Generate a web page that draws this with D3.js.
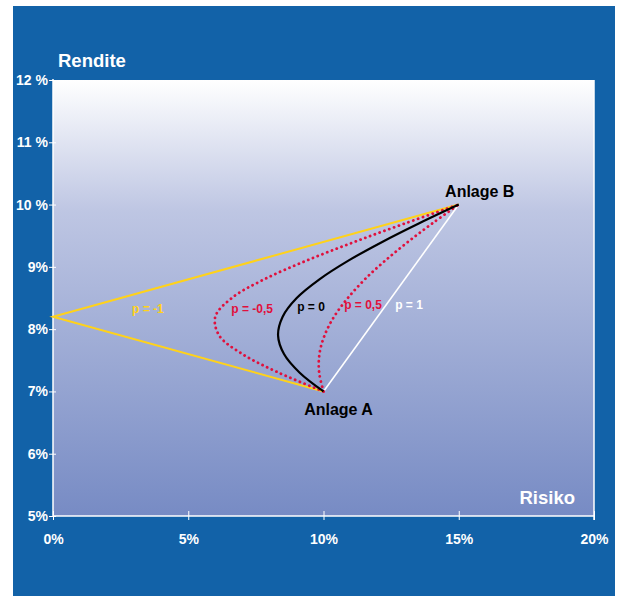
<!DOCTYPE html>
<html>
<head>
<meta charset="utf-8">
<script src="https://cdn.jsdelivr.net/npm/d3@7"></script>
<style>
  html, body { margin: 0; padding: 0; background: #ffffff; }
  svg { display: block; font-family: "Liberation Sans", Arial, sans-serif; }
</style>
</head>
<body>
<svg id="chart" width="618" height="596"></svg>
<script>
// Axis ticks
const xTicks = [0, 5, 10, 15, 20];
const xTickLabels = ["0%", "5%", "10%", "15%", "20%"];
const yTicks = [5, 6, 7, 8, 9, 10, 11, 12];
const yTickLabels = ["5%", "6%", "7%", "8%", "9%", "10 %", "11 %", "12 %"];

// Two assets: [risk %, return %]
const assetA = [10, 7];
const assetB = [15, 10];

// Portfolio curves (risk %, return %) for each correlation p
const riskPm05 = [10, 8.35, 7.0, 6.14, 6.0, 6.61, 7.81, 9.37, 11.14, 13.03, 15];
const riskP0   = [10, 9.12, 8.54, 8.32, 8.49, 9.01, 9.85, 10.92, 12.17, 13.54, 15];
const riskP05  = [10, 9.84, 9.85, 10.04, 10.39, 10.90, 11.53, 12.28, 13.12, 14.03, 15];
const curveReturn = [7.0, 7.3, 7.6, 7.9, 8.2, 8.5, 8.8, 9.1, 9.4, 9.7, 10.0];
const riskPm1 = [10, 0, 15];
const returnPm1 = [7, 8.2, 10];
const riskP1 = [10, 15];
const returnP1 = [7, 10];

const svg = d3.select("#chart");

// Blue panel
svg.append("rect").attr("x", 13).attr("y", 6).attr("width", 602).attr("height", 590)
  .attr("fill", "#1262a8");

const m = { left: 53, right: 594, top: 80, bottom: 516 };
const x = d3.scaleLinear().domain([0, 20]).range([m.left, m.right]);
const y = d3.scaleLinear().domain([5, 12]).range([m.bottom, m.top]);

// Plot area gradient
const defs = svg.append("defs");
const grad = defs.append("linearGradient").attr("id", "bg")
  .attr("x1", 0).attr("y1", 0).attr("x2", 0).attr("y2", 1);
grad.append("stop").attr("offset", "0%").attr("stop-color", "#ffffff");
grad.append("stop").attr("offset", "30%").attr("stop-color", "#bec6e3");
grad.append("stop").attr("offset", "100%").attr("stop-color", "#778bc4");

svg.append("rect")
  .attr("x", m.left).attr("y", m.top)
  .attr("width", m.right - m.left).attr("height", m.bottom - m.top)
  .attr("fill", "url(#bg)");

// Frame lines (left, bottom, right)
const frame = svg.append("g").attr("stroke", "#ffffff").attr("stroke-width", 1.5).attr("fill", "none");
frame.append("line").attr("x1", m.left).attr("x2", m.left).attr("y1", m.top - 1).attr("y2", m.bottom);
frame.append("line").attr("x1", m.left).attr("x2", m.right).attr("y1", m.bottom).attr("y2", m.bottom);
frame.append("line").attr("x1", m.right).attr("x2", m.right).attr("y1", m.top).attr("y2", m.bottom + 4);

// Y axis
const yAxis = d3.axisLeft(y).tickValues(yTicks)
  .tickFormat((d, i) => yTickLabels[i]).tickSize(4).tickPadding(4);
const gy = svg.append("g").attr("transform", `translate(${m.left},0)`).call(yAxis);
gy.select(".domain").remove();
gy.selectAll(".tick line").attr("stroke", "#ffffff").attr("x2", 3).attr("x1", -4);
gy.selectAll(".tick text").attr("fill", "#ffffff").attr("font-size", 14)
  .attr("font-weight", "bold").attr("x", -5);

// X axis
const xAxis = d3.axisBottom(x).tickValues(xTicks)
  .tickFormat((d, i) => xTickLabels[i]).tickSize(4).tickPadding(14);
const gx = svg.append("g").attr("transform", `translate(0,${m.bottom})`).call(xAxis);
gx.select(".domain").remove();
gx.selectAll(".tick line").attr("stroke", "#ffffff").attr("y1", -5).attr("y2", 4);
gx.selectAll(".tick text").attr("fill", "#ffffff").attr("font-size", 14).attr("font-weight", "bold");

// Axis titles
svg.append("text").attr("x", 58).attr("y", 67).text("Rendite")
  .attr("fill", "#ffffff").attr("font-size", 18.5).attr("font-weight", "bold");
svg.append("text").attr("x", 575).attr("y", 504).attr("text-anchor", "end").text("Risiko")
  .attr("fill", "#ffffff").attr("font-size", 18.5).attr("font-weight", "bold");

// Portfolio lines
const line = d3.line().x(d => x(d[0])).y(d => y(d[1]));
const smooth = d3.line().x(d => x(d[0])).y(d => y(d[1])).curve(d3.curveCatmullRom.alpha(0.5));
const zip = (a, b) => a.map((v, i) => [v, b[i]]);

const plot = svg.append("g").attr("fill", "none");
plot.append("path").attr("d", line(zip(riskP1, returnP1)))
  .attr("stroke", "#ffffff").attr("stroke-width", 1.6);
plot.append("path").attr("d", line(zip(riskPm1, returnPm1)))
  .attr("stroke", "#ffd21a").attr("stroke-width", 2);
plot.append("path").attr("d", smooth(zip(riskP05, curveReturn)))
  .attr("stroke", "#e0103c").attr("stroke-width", 2.8)
  .attr("stroke-dasharray", "0.1,5").attr("stroke-linecap", "round");
plot.append("path").attr("d", smooth(zip(riskPm05, curveReturn)))
  .attr("stroke", "#e0103c").attr("stroke-width", 2.8)
  .attr("stroke-dasharray", "0.1,5").attr("stroke-linecap", "round");
plot.append("path").attr("d", smooth(zip(riskP0, curveReturn)))
  .attr("stroke", "#000000").attr("stroke-width", 2.2);

// Asset labels
svg.append("text").attr("x", x(assetB[0]) + 21).attr("y", y(assetB[1]) - 8)
  .attr("text-anchor", "middle").text("Anlage B")
  .attr("fill", "#000000").attr("font-size", 16).attr("font-weight", "bold");
svg.append("text").attr("x", x(assetA[0]) + 15).attr("y", y(assetA[1]) + 24)
  .attr("text-anchor", "middle").text("Anlage A")
  .attr("fill", "#000000").attr("font-size", 16).attr("font-weight", "bold");

// Correlation labels
const corrLabels = [
  { t: "p = -1", rx: 3.51, ry: 8.26, c: "#ffd21a" },
  { t: "p = -0,5", rx: 7.36, ry: 8.26, c: "#e0103c" },
  { t: "p = 0", rx: 9.54, ry: 8.29, c: "#000000" },
  { t: "p = 0,5", rx: 11.46, ry: 8.32, c: "#e0103c" },
  { t: "p = 1", rx: 13.16, ry: 8.32, c: "#ffffff" }
];
svg.append("g").selectAll("text").data(corrLabels).join("text")
  .attr("x", d => x(d.rx)).attr("y", d => y(d.ry))
  .attr("text-anchor", "middle")
  .attr("fill", d => d.c).attr("font-size", 12).attr("font-weight", "bold")
  .text(d => d.t);
</script>
</body>
</html>
